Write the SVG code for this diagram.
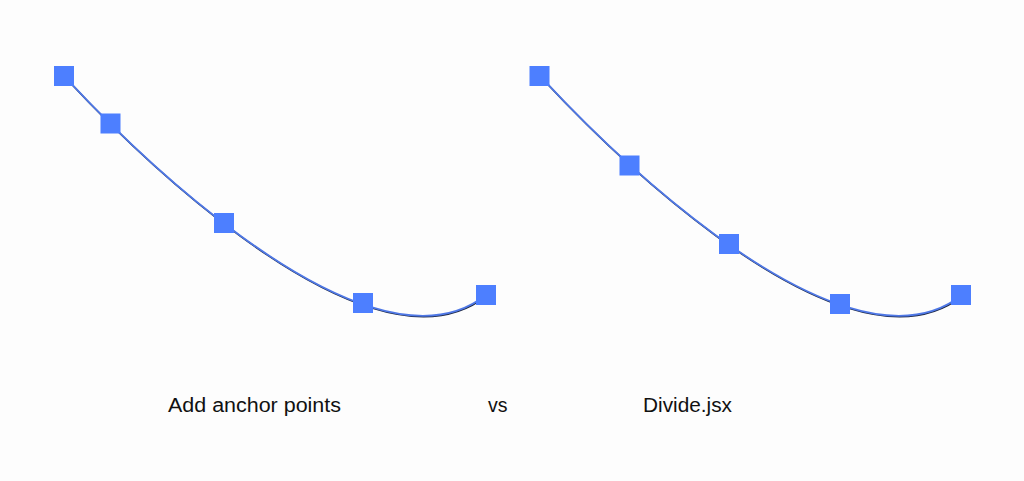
<svg xmlns="http://www.w3.org/2000/svg" width="1024" height="481" viewBox="0 0 1024 481">
<defs>
<style>
.shadow{fill:none;stroke:#1b2540;stroke-width:1.6}
.curve{fill:none;stroke:#4f78e6;stroke-width:1.8}
.pt{fill:#4d7fff}
.lbl{font-family:"Liberation Sans",Arial,sans-serif;font-size:19.5px;fill:#111}
</style>
<path id="c" d="M64,76 C62,73 353,400 486,295"/>
</defs>
<rect width="1024" height="481" fill="#fdfdfd"/>
<g id="connectors">
<g id="curve-left">
<use href="#c" class="shadow" transform="translate(0.6,0.9)"/>
<use href="#c" class="curve"/>
</g>
<g id="curve-right" transform="translate(476,0)">
<use href="#c" class="shadow" transform="translate(0.6,0.9)"/>
<use href="#c" class="curve"/>
</g>
</g>
<g id="left-points">
<rect id="l1" class="pt" x="54" y="66" width="20" height="20"/>
<rect id="l2" class="pt" x="100.5" y="113.5" width="20" height="20"/>
<rect id="l3" class="pt" x="214" y="213" width="20" height="20"/>
<rect id="l4" class="pt" x="353" y="293" width="20" height="20"/>
<rect id="l5" class="pt" x="476" y="285" width="20" height="20"/>
</g>
<g id="right-points">
<rect id="r1" class="pt" x="529.5" y="66" width="20" height="20"/>
<rect id="r2" class="pt" x="619.5" y="155.5" width="20" height="20"/>
<rect id="r3" class="pt" x="719" y="234" width="20" height="20"/>
<rect id="r4" class="pt" x="830" y="294" width="20" height="20"/>
<rect id="r5" class="pt" x="951" y="285" width="20" height="20"/>
</g>
<g id="labels">
<text id="t1" class="lbl" x="168" y="412" textLength="173" lengthAdjust="spacingAndGlyphs">Add anchor points</text>
<text id="t2" class="lbl" x="488" y="412">vs</text>
<text id="t3" class="lbl" x="643" y="412" textLength="89" lengthAdjust="spacingAndGlyphs">Divide.jsx</text>
</g>
</svg>
